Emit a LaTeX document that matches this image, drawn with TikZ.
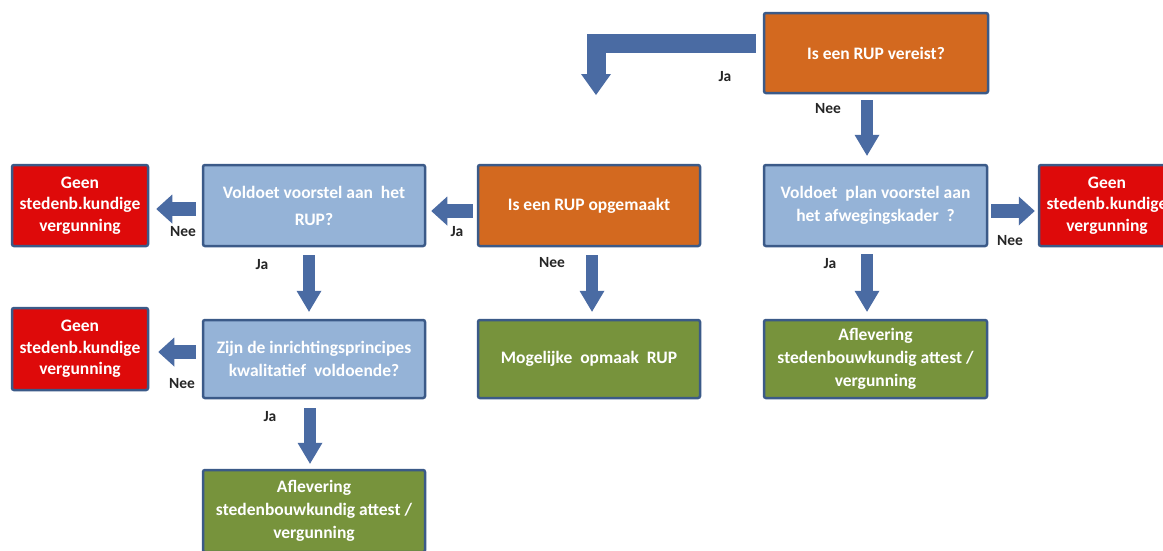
\documentclass[tikz,border=0pt]{standalone}
\usepackage{fontspec}
\setmainfont{Carlito}
\usetikzlibrary{arrows.meta}
\definecolor{cOrange}{HTML}{D3691F}
\definecolor{cBlue}{HTML}{95B3D7}
\definecolor{cRed}{HTML}{DE0A0A}
\definecolor{cGreen}{HTML}{77933C}
\definecolor{cBorder}{HTML}{3B5A88}
\definecolor{cArrow}{HTML}{4A6BA3}
\begin{document}
\begin{tikzpicture}[x=1pt,y=-1pt,
  box/.style={draw=cBorder, line width=2.5pt, rounded corners=2pt, text=white,
    font=\bfseries\fontsize{17.5}{23}\selectfont, align=center, inner sep=2pt},
  widebox/.style={box, minimum width=222pt, minimum height=80pt},
  qbox/.style={widebox, fill=cBlue},
  obox/.style={widebox, fill=cOrange},
  gbox/.style={widebox, fill=cGreen},
  rbox/.style={box, fill=cRed, minimum width=136pt, minimum height=81pt,
    font=\bfseries\fontsize{17.5}{21.5}\selectfont},
  varrow/.style={draw=cArrow, line width=12pt, line join=miter,
    -{Triangle[width=25pt,length=21pt,line width=0pt]}},
  harrow/.style={draw=cArrow, line width=14pt,
    -{Triangle[width=29pt,length=16pt,line width=0pt]}},
  lbl/.style={font=\bfseries\fontsize{15.5}{18}\selectfont, text=black!85, inner sep=0pt}
]
\useasboundingbox (0,0) rectangle (1163,550);
\fill[white] (0,0) rectangle (1163,550);

% boxes
\node[obox, minimum width=224pt] (vereist) at (876,53) {Is een RUP vereist?};
\node[qbox, minimum height=81pt] (voorstel) at (314,205.5) {Voldoet voorstel aan \ het\\[4pt]RUP?};
\node[obox, minimum height=81pt] (opgemaakt) at (589,205.5) {Is een RUP opgemaakt};
\node[qbox, minimum width=223pt, minimum height=81pt] (plan) at (875.5,205.5) {Voldoet \ plan voorstel aan\\het afwegingskader \ ?};
\node[rbox] (geen1) at (80,205.5) {Geen\\stedenb.kundige\\vergunning};
\node[rbox] (geen3) at (1107,205.5) {Geen\\stedenb.kundige\\vergunning};
\node[qbox, minimum height=78pt] (zijn) at (314,359) {Zijn de inrichtingsprincipes\\kwalitatief \ voldoende?};
\node[rbox, minimum height=82pt] (geen2) at (80,349) {Geen\\stedenb.kundige\\vergunning};
\node[gbox, minimum height=78pt] (mogelijk) at (589,359) {Mogelijke \ opmaak \ RUP};
\node[gbox, minimum width=223pt, minimum height=78pt] (afl1) at (875.5,359) {Aflevering\\stedenbouwkundig attest /\\vergunning};
\node[gbox, minimum height=82pt] (afl2) at (314,511) {Aflevering\\stedenbouwkundig attest /\\vergunning};

% connectors
\coordinate (jaend) at (596,95);
\draw[varrow, line width=19pt, -{Triangle[width=30pt,length=21pt,line width=0pt]}, shorten <=7pt]
  (vereist.west |- 0,43) -| (jaend);
\draw[varrow, shorten <=6pt, shorten >=8pt] (vereist.south -| 867,0) -- (plan.north -| 867,0);
\draw[harrow, shorten <=4pt, shorten >=5pt] (opgemaakt.west |- 0,211) -- (voorstel.east |- 0,211);
\draw[harrow, shorten <=6pt, shorten >=7pt] (voorstel.west |- 0,209) -- (geen1.east |- 0,209);
\draw[varrow, shorten <=8pt, shorten >=7pt] (voorstel.south -| 309,0) -- (zijn.north -| 309,0);
\draw[varrow, shorten <=8pt, shorten >=7pt] (opgemaakt.south -| 592,0) -- (mogelijk.north -| 592,0);
\draw[varrow, shorten <=7pt, shorten >=7pt] (plan.south -| 867,0) -- (afl1.north -| 867,0);
\draw[harrow, shorten <=3pt, shorten >=3pt] (plan.east |- 0,211) -- (geen3.west |- 0,211);
\draw[harrow, shorten <=6pt, shorten >=9pt] (zijn.west |- 0,352) -- (geen2.east |- 0,352);
\draw[varrow, shorten <=9pt, shorten >=5pt] (zijn.south -| 310,0) -- (afl2.north -| 310,0);

% labels
\node[lbl] (l1) at (725,77) {Ja};
\node[lbl] (l2) at (828,109) {Nee};
\node[lbl] (l3) at (457,232) {Ja};
\node[lbl] (l4) at (183,232) {Nee};
\node[lbl] (l5) at (262,265) {Ja};
\node[lbl] (l6) at (552,263) {Nee};
\node[lbl] (l7) at (830,264) {Ja};
\node[lbl] (l8) at (1010,241) {Nee};
\node[lbl] (l9) at (182,384) {Nee};
\node[lbl] (l10) at (270,417) {Ja};
\end{tikzpicture}
\end{document}
